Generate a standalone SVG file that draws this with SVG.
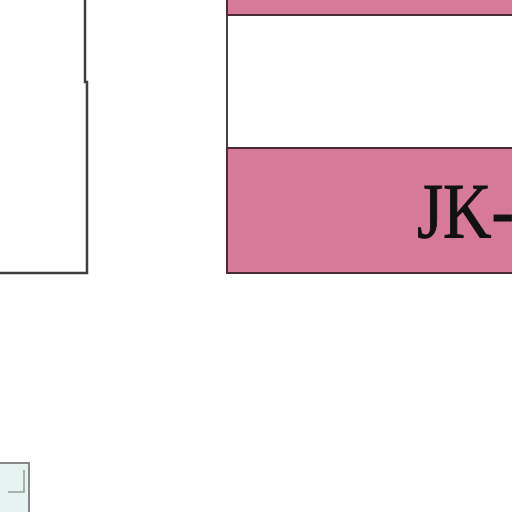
<svg xmlns="http://www.w3.org/2000/svg" width="512" height="512" viewBox="0 0 512 512">
<style>
.box{fill:#fff;stroke:#3e3e3e;stroke-width:2.5}
.pink{fill:#d77a9a;stroke:#4a2a38;stroke-width:2}
.lbl{font-family:"Liberation Serif","Times New Roman",serif;fill:#111;stroke:#111;stroke-width:1}
</style>
<rect width="512" height="512" fill="#fff"/>
<g id="left-node">
<path d="M-2 -2 H85 V82 H87 V273 H-2" class="box"/>
</g>
<g id="right-node">
<rect x="227" y="-2" width="300" height="275" fill="#fff" stroke="#444" stroke-width="2"/>
<rect x="227" y="-2" width="300" height="17" class="pink"/>
<rect x="227" y="148" width="300" height="125" class="pink"/>
<line x1="356" y1="148" x2="512" y2="148" stroke="#4a2a38" stroke-width="2"/>
<text class="lbl" transform="translate(417 237) scale(0.86 1)" font-size="78">JK-</text>
</g>
<g id="bottom-node">
<rect x="-2" y="463" width="31" height="60" fill="#e6f4f1" stroke="#888" stroke-width="2"/>
<path d="M24 470 V492 H8" fill="none" stroke="#999" stroke-width="1.5"/>
</g>
<g id="connectors"></g>
</svg>
